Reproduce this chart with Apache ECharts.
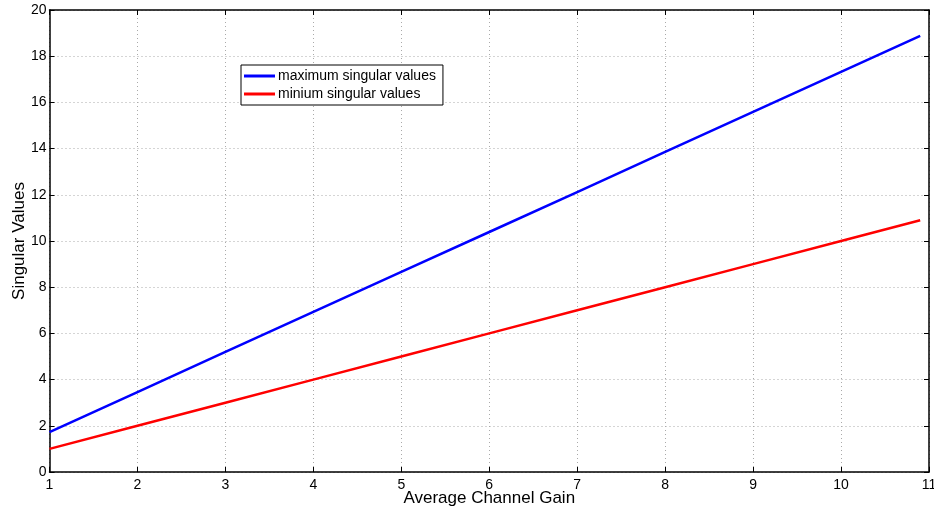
<!DOCTYPE html>
<html><head><meta charset="utf-8">
<script src="https://cdn.jsdelivr.net/npm/echarts@6/dist/echarts.min.js"></script>
<style>html,body{margin:0;padding:0;background:#fff}#c{width:934px;height:510px}</style>
</head><body><div id="c"></div>
<script>
const gains = [1, 2, 3, 4, 5, 6, 7, 8, 9, 10, 10.9];
const maxSV = [1.73, 3.46, 5.20, 6.93, 8.66, 10.39, 12.12, 13.86, 15.59, 17.32, 18.88];
const minSV = [1, 2, 3, 4, 5, 6, 7, 8, 9, 10, 10.9];
const seriesNames = ['maximum singular values', 'minium singular values'];
const xTicks = [1,2,3,4,5,6,7,8,9,10,11];
const yTicks = [0,2,4,6,8,10,12,14,16,18,20];

const font = 'Liberation Sans, Arial, Helvetica, sans-serif';
const chart = echarts.init(document.getElementById('c'), null, {renderer:'canvas'});
const baseAxis = {
  axisLine:{show:true, onZero:false, lineStyle:{color:'#000', width:1.5}},
  axisTick:{show:true, inside:true, length:5, lineStyle:{color:'#000', width:1}},
};
chart.setOption({
  animation:false,
  backgroundColor:'#fff',
  grid:{left:49.5, right:5, top:10, bottom:38, containLabel:false, outerBoundsMode:'none'},
  legend:{
    orient:'vertical', left:241, top:65,
    data:seriesNames,
    icon:'rect', itemWidth:31, itemHeight:3, itemGap:4,
    padding:[4,7,4,3],
    borderColor:'#000', borderWidth:1, backgroundColor:'#fff',
    textStyle:{fontFamily:font, fontSize:14, color:'#000', padding:[0,0,0,-2]}
  },
  xAxis:[{
    type:'value', min:1, max:11, interval:1, position:'bottom',
    name:'Average Channel Gain', nameLocation:'middle', nameGap:18, nameMoveOverlap:false,
    nameTextStyle:{fontFamily:font, fontSize:17, color:'#000', verticalAlign:'top'},
    ...baseAxis,
    axisLabel:{fontFamily:font, fontSize:14, color:'#000', margin:6, formatter:v=>String(v)},
    splitLine:{show:true, lineStyle:{color:'#aaa', type:[1,3], width:1}}
  },{
    type:'value', min:1, max:11, interval:1, position:'top',
    ...baseAxis, axisLabel:{show:false}, splitLine:{show:false}
  }],
  yAxis:[{
    type:'value', min:0, max:20, interval:2, position:'left',
    name:'Singular Values', nameLocation:'middle', nameGap:22, nameRotate:90, nameMoveOverlap:false,
    nameTextStyle:{fontFamily:font, fontSize:17, color:'#000'},
    ...baseAxis,
    axisLabel:{fontFamily:font, fontSize:14, color:'#000', margin:3},
    splitLine:{show:true, lineStyle:{color:'#aaa', type:[1,3], width:1}}
  },{
    type:'value', min:0, max:20, interval:2, position:'right',
    ...baseAxis, axisLabel:{show:false}, splitLine:{show:false}
  }],
  series:[
    {name:seriesNames[0], type:'line', symbol:'none', data:gains.map((g,i)=>[g,maxSV[i]]),
     lineStyle:{color:'#0000ff', width:2.5}, itemStyle:{color:'#0000ff'}},
    {name:seriesNames[1], type:'line', symbol:'none', data:gains.map((g,i)=>[g,minSV[i]]),
     lineStyle:{color:'#ff0000', width:2.5}, itemStyle:{color:'#ff0000'}}
  ]
});
</script></body></html>
